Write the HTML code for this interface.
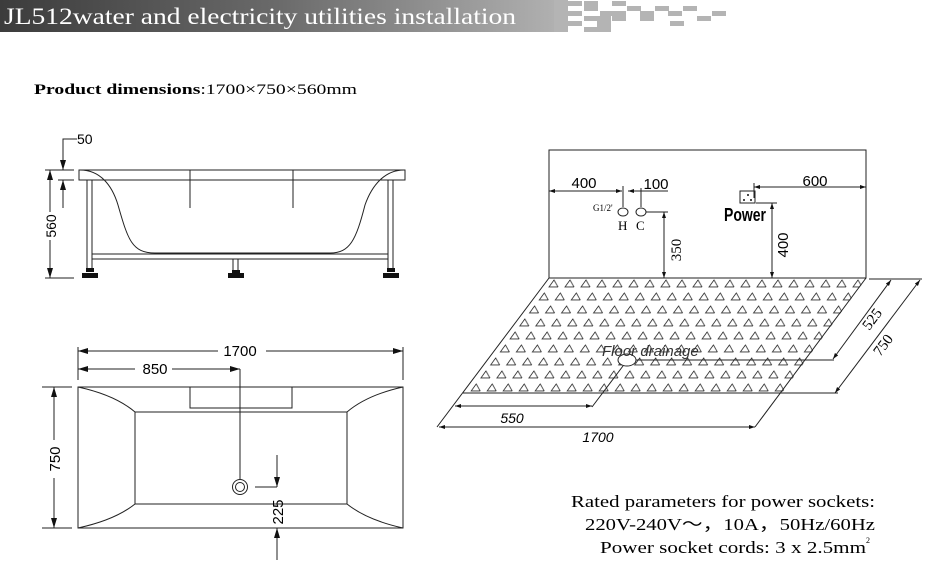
<!DOCTYPE html>
<html><head><meta charset="utf-8"><style>
html,body{margin:0;padding:0;background:#fff;}
svg{display:block;}
text{font-family:"Liberation Serif",serif;}
.s{font-family:"Liberation Sans",sans-serif;}
</style></head><body>
<svg width="926" height="561" viewBox="0 0 926 561" xmlns="http://www.w3.org/2000/svg">
<defs>
<linearGradient id="hg" x1="0" x2="1" y1="0" y2="0">
<stop offset="0" stop-color="#3c3c3c"/><stop offset="0.5" stop-color="#6a6a6a"/><stop offset="1" stop-color="#b0b0b0"/>
</linearGradient>
<marker id="a" viewBox="0 0 10 6" refX="10" refY="3" markerWidth="10" markerHeight="6" markerUnits="userSpaceOnUse" orient="auto-start-reverse"><path d="M0,0 L10,3 L0,6z" fill="#111"/></marker>
<marker id="b" viewBox="0 0 6 4" refX="6" refY="2" markerWidth="6" markerHeight="4" markerUnits="userSpaceOnUse" orient="auto-start-reverse"><path d="M0,0 L6,2 L0,4z" fill="#111"/></marker>
<pattern id="tri" width="16" height="13" patternUnits="userSpaceOnUse" patternTransform="translate(549,278) skewX(-36.8)">
<path d="M8,2 L12,9 L3,9 Z" fill="none" stroke="#222" stroke-width="0.8" transform="skewX(36.8) translate(-3,0)"/>
</pattern>
<clipPath id="fl"><path d="M549,279 L866,279 L782,393 L463,393 Z"/></clipPath>
</defs>

<!-- header -->
<rect x="0" y="0" width="554" height="32" fill="url(#hg)"/>
<text x="4" y="24" font-size="23" fill="#fff" textLength="512" lengthAdjust="spacingAndGlyphs">JL512water and electricity utilities installation</text>
<g fill="#b4b4b4">
<rect x="554" y="0" width="14" height="32"/>
<rect x="568" y="1" width="14" height="5"/><rect x="584" y="1" width="14" height="5"/><rect x="612" y="1" width="14" height="5"/>
<rect x="568" y="11" width="14" height="5"/><rect x="584" y="6" width="14" height="5"/><rect x="600" y="11" width="14" height="5"/>
<rect x="568" y="21" width="14" height="5"/><rect x="584" y="16" width="14" height="5"/><rect x="597" y="16" width="14" height="16"/>
<rect x="584" y="27" width="14" height="5"/><rect x="627" y="6" width="14" height="5"/><rect x="612" y="16" width="14" height="5"/>
<rect x="612" y="11" width="14" height="5"/><rect x="640" y="11" width="14" height="5"/><rect x="655" y="6" width="14" height="5"/>
<rect x="668" y="11" width="14" height="5"/><rect x="683" y="6" width="14" height="5"/><rect x="670" y="21" width="14" height="5"/>
<rect x="697" y="16" width="14" height="5"/><rect x="712" y="11" width="14" height="5"/><rect x="640" y="16" width="14" height="5"/>
</g>

<text x="34" y="94" font-size="15" textLength="323" lengthAdjust="spacingAndGlyphs"><tspan font-weight="bold">Product dimensions</tspan>:1700×750×560mm</text>

<g stroke="#222" fill="none" stroke-width="1">
<path d="M79,170 L405,170 L405,180 L390,180 L95,180 L79,180 Z"/>
<path d="M80,170 C100,170 112,185 118,205 C128,240 132,253 155,253 L330,253 C350,253 356,240 365,205 C372,185 385,170 404,170"/>
<line x1="190" y1="170" x2="190" y2="208"/><line x1="293" y1="170" x2="293" y2="208"/>
<line x1="87" y1="180" x2="87" y2="268"/><line x1="92" y1="180" x2="92" y2="268"/>
<line x1="388" y1="180" x2="388" y2="268"/><line x1="393" y1="180" x2="393" y2="268"/>
<rect x="92" y="254" width="296" height="5"/>
<line x1="233" y1="259" x2="233" y2="272"/><line x1="238" y1="259" x2="238" y2="272"/>
</g>
<g fill="#111">
<rect x="86" y="268" width="8" height="4"/><rect x="82" y="273" width="16" height="5"/>
<rect x="387" y="268" width="8" height="4"/><rect x="383" y="273" width="16" height="5"/>
<rect x="232" y="270" width="8" height="3"/><rect x="228" y="273" width="16" height="5"/>
</g>
<g stroke="#222" stroke-width="1" fill="none">
<line x1="45" y1="170" x2="74" y2="170"/><line x1="45" y1="278" x2="74" y2="278"/>
<line x1="50" y1="170" x2="50" y2="212" marker-start="url(#a)"/><line x1="50" y1="240" x2="50" y2="278" marker-end="url(#a)"/>
<line x1="58" y1="180" x2="74" y2="180"/>
<path d="M77,139 L63,139 L63,170" marker-end="url(#a)"/>
<line x1="63" y1="180" x2="63" y2="208" marker-start="url(#a)"/>
</g>
<text x="77" y="144" font-size="14" class="s">50</text>
<text transform="translate(56,226) rotate(-90)" x="0" y="0" font-size="14" class="s" text-anchor="middle">560</text>

<!-- plan view -->
<g stroke="#222" stroke-width="1" fill="none">
<rect x="78" y="387" width="325" height="141"/>
<rect x="135" y="412" width="212" height="92"/>
<path d="M78,387 Q115,395 135,412 M403,387 Q367,395 347,412 M78,528 Q115,520 135,504 M403,528 Q367,520 347,504"/>
<path d="M190,387 L190,408 L292,408 L292,387"/>
<circle cx="240" cy="487" r="7.5"/><circle cx="240" cy="487" r="4.5"/>
<line x1="78" y1="347" x2="78" y2="380"/><line x1="403" y1="347" x2="403" y2="380"/>
<line x1="78" y1="351" x2="218" y2="351" marker-start="url(#a)"/><line x1="266" y1="351" x2="403" y2="351" marker-end="url(#a)"/>
<line x1="78" y1="369" x2="135" y2="369" marker-start="url(#a)"/><line x1="172" y1="369" x2="240" y2="369" marker-end="url(#a)"/>
<line x1="240" y1="369" x2="240" y2="479"/>
<line x1="42" y1="387" x2="72" y2="387"/><line x1="42" y1="528" x2="72" y2="528"/>
<line x1="54" y1="387" x2="54" y2="440" marker-start="url(#a)"/><line x1="54" y1="478" x2="54" y2="528" marker-end="url(#a)"/>
<line x1="255" y1="487" x2="277" y2="487"/>
<line x1="277" y1="455" x2="277" y2="487" marker-end="url(#a)"/>
<line x1="277" y1="560" x2="277" y2="528" marker-end="url(#a)"/>
</g>
<text x="240" y="356" font-size="15" class="s" text-anchor="middle">1700</text>
<text x="155" y="374" font-size="15" class="s" text-anchor="middle">850</text>
<text transform="translate(60,459) rotate(-90)" font-size="15" class="s" text-anchor="middle">750</text>
<text transform="translate(283,512) rotate(-90)" font-size="15" class="s" text-anchor="middle">225</text>

<!-- wall & floor -->
<rect x="549" y="150" width="317" height="128" fill="none" stroke="#222"/>
<path d="M549,279 L866,279 L782,393 L463,393 Z" fill="url(#tri)" clip-path="url(#fl)"/>
<g stroke="#222" stroke-width="1" fill="none">
<line x1="549" y1="278" x2="437" y2="427"/>
<line x1="866" y1="278" x2="755" y2="427"/>
<line x1="463" y1="393" x2="838" y2="393"/>
<line x1="439" y1="427" x2="755" y2="427" marker-start="url(#b)" marker-end="url(#b)"/>
<line x1="455" y1="406" x2="592" y2="406" marker-start="url(#b)" marker-end="url(#b)"/>
<line x1="626" y1="362" x2="592" y2="407"/>
<ellipse cx="627" cy="360" rx="9" ry="6" fill="#fff"/>
<line x1="636" y1="360" x2="834" y2="360"/>
<line x1="920" y1="280" x2="835" y2="393" marker-start="url(#b)" marker-end="url(#b)"/>
<line x1="891" y1="280" x2="833" y2="359" marker-start="url(#b)" marker-end="url(#b)"/>
<line x1="869" y1="279" x2="922" y2="279"/>
<line x1="549" y1="191" x2="613" y2="191" marker-start="url(#b)"/>
<line x1="613" y1="191" x2="622" y2="191" marker-end="url(#b)"/>
<line x1="623" y1="186" x2="623" y2="207"/>
<line x1="628" y1="191" x2="637" y2="191" marker-start="url(#b)"/>
<line x1="637" y1="191" x2="668" y2="191"/>
<line x1="641" y1="188" x2="641" y2="207"/>
<ellipse cx="623" cy="212" rx="5" ry="4"/><ellipse cx="641" cy="212" rx="5" ry="4"/>
<line x1="646" y1="212" x2="668" y2="212"/>
<line x1="664" y1="212" x2="664" y2="278" marker-start="url(#b)" marker-end="url(#b)"/>
<rect x="740" y="191" width="15" height="12"/>
<line x1="754" y1="183" x2="754" y2="198"/>
<line x1="754" y1="187" x2="866" y2="187" marker-start="url(#b)" marker-end="url(#b)"/>
<line x1="756" y1="203" x2="777" y2="203"/>
<line x1="772" y1="203" x2="772" y2="278" marker-start="url(#b)" marker-end="url(#b)"/>
</g>
<g fill="#111"><circle cx="744" cy="200" r="1"/><circle cx="748" cy="195" r="1"/><circle cx="751" cy="200" r="1"/></g>
<text x="584" y="188" font-size="15" class="s" text-anchor="middle">400</text>
<text x="656" y="189" font-size="15" class="s" text-anchor="middle">100</text>
<text x="815" y="186" font-size="15" class="s" text-anchor="middle">600</text>
<text x="593" y="211" font-size="9">G1/2'</text>
<text x="618" y="230" font-size="13">H</text><text x="636" y="230" font-size="13">C</text>
<text x="724" y="221" font-size="18" class="s" font-weight="bold" textLength="42" lengthAdjust="spacingAndGlyphs">Power</text>
<text transform="translate(681,250) rotate(-90)" font-size="15" text-anchor="middle">350</text>
<text transform="translate(788,245) rotate(-90)" font-size="15" class="s" text-anchor="middle">400</text>
<text x="602" y="356" font-size="15" class="s" font-style="italic" fill="#333">Floor drainage</text>
<text x="512" y="423" font-size="14" class="s" font-style="italic" text-anchor="middle">550</text>
<text x="598" y="442" font-size="14" class="s" font-style="italic" text-anchor="middle">1700</text>
<text transform="translate(876,322) rotate(-53)" font-size="15" text-anchor="middle">525</text>
<text transform="translate(887,348) rotate(-53)" font-size="15" text-anchor="middle">750</text>

<text x="571" y="507" font-size="17" textLength="304" lengthAdjust="spacingAndGlyphs">Rated parameters for power sockets:</text>
<text x="585" y="530" font-size="17" textLength="290" lengthAdjust="spacingAndGlyphs">220V-240V～，10A，50Hz/60Hz</text>
<text x="600" y="553" font-size="17" textLength="266" lengthAdjust="spacingAndGlyphs">Power socket cords: 3 x 2.5mm</text>
<text x="866" y="543" font-size="8">2</text>
</svg>
</body></html>
